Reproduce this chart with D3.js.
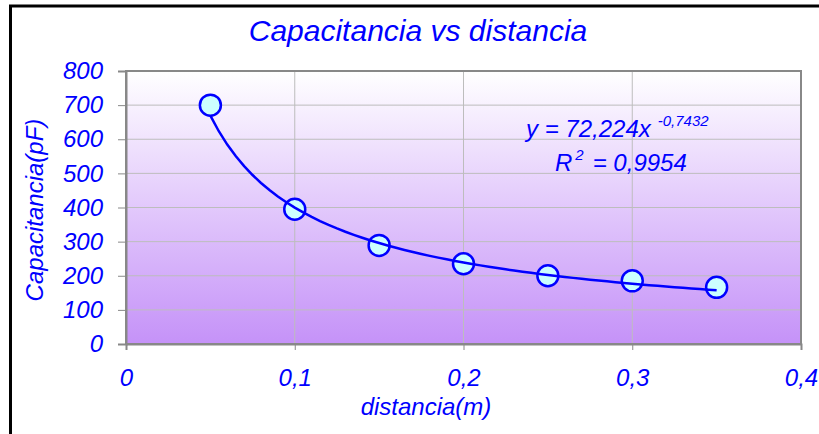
<!DOCTYPE html>
<html>
<head>
<meta charset="utf-8">
<script src="https://cdn.jsdelivr.net/npm/d3@7"></script>
<style>
  html, body { margin: 0; padding: 0; background: #ffffff; }
  svg { display: block; }
  text { font-family: "Liberation Sans", Arial, sans-serif; font-style: italic; fill: #0000ff; }
</style>
</head>
<body>
<svg id="chart" width="819" height="434"></svg>
<script>
// ---- data ----
const distances = [0.05, 0.10, 0.15, 0.20, 0.25, 0.30, 0.35];
const capacitances = [700, 395, 289, 235, 200, 185, 166];
const xTicks = [0, 0.1, 0.2, 0.3, 0.4];
const yTicks = [0, 100, 200, 300, 400, 500, 600, 700, 800];
const trendCoefA = [72.224];
const trendCoefB = [-0.7432];
const titleText = "Capacitancia vs distancia";
const xTitle = "distancia(m)";
const yTitle = "Capacitancia(pF)";
const eqMain = "y = 72,224x";
const eqExp = "-0,7432";
const r2Label = "R";
const r2Value = "= 0,9954";

(function () {
const svg = d3.select("#chart");
const fmt = v => String(v).replace(".", ",");

const pL = 126, pR = 801, pT = 71, pB = 344;
const x = d3.scaleLinear().domain([0, 0.4]).range([pL, pR]);
const y = d3.scaleLinear().domain([0, 800]).range([pB, pT]);

// outer frame
svg.append("rect").attr("x", 10.5).attr("y", 6).attr("width", 900).attr("height", 500)
  .attr("fill", "#ffffff").attr("stroke", "#000000").attr("stroke-width", 3);

// gradient background
const defs = svg.append("defs");
const grad = defs.append("linearGradient").attr("id", "bg").attr("x1", 0).attr("y1", 0).attr("x2", 0).attr("y2", 1);
grad.append("stop").attr("offset", "0%").attr("stop-color", "#ffffff");
grad.append("stop").attr("offset", "100%").attr("stop-color", "#c592f8");
svg.append("rect").attr("x", pL).attr("y", pT).attr("width", pR - pL).attr("height", pB - pT)
  .attr("fill", "url(#bg)");

// gridlines
svg.append("g").selectAll("line").data(yTicks.filter(d => d > 0 && d < 800)).join("line")
  .attr("x1", pL).attr("x2", pR).attr("y1", d => y(d)).attr("y2", d => y(d))
  .attr("stroke", "#bdbdbd").attr("stroke-width", 1);
svg.append("g").selectAll("line").data(xTicks.filter(d => d > 0 && d < 0.4)).join("line")
  .attr("y1", pT).attr("y2", pB).attr("x1", d => x(d)).attr("x2", d => x(d))
  .attr("stroke", "#bdbdbd").attr("stroke-width", 1);

// plot border
svg.append("rect").attr("x", pL).attr("y", pT).attr("width", pR - pL).attr("height", pB - pT)
  .attr("fill", "none").attr("stroke", "#888888").attr("stroke-width", 2);

// axes
const yAxis = d3.axisLeft(y).tickValues(yTicks).tickSize(8).tickFormat(d => fmt(d));
const gy = svg.append("g").attr("transform", `translate(${pL},0)`).call(yAxis);
gy.attr("font-family", null).attr("font-size", null);
gy.select(".domain").attr("stroke", "#888888").attr("stroke-width", 2);
gy.selectAll(".tick line").attr("stroke", "#888888").attr("stroke-width", 1);
gy.selectAll(".tick text").attr("x", -23).attr("dy", "0.32em")
  .style("font-size", "24px").attr("fill", "#0000ff");

const xAxis = d3.axisBottom(x).tickValues(xTicks).tickSize(6).tickFormat(d => fmt(d));
const gx = svg.append("g").attr("transform", `translate(0,${pB})`).call(xAxis);
gx.attr("font-family", null).attr("font-size", null);
gx.select(".domain").attr("stroke", "#888888").attr("stroke-width", 2);
gx.selectAll(".tick line").attr("stroke", "#888888").attr("stroke-width", 1);
gx.selectAll(".tick text").attr("y", 42).attr("dy", 0)
  .style("font-size", "24px").attr("fill", "#0000ff");

// markers
svg.append("g").selectAll("circle").data(distances.map((d, i) => [d, capacitances[i]])).join("circle")
  .attr("cx", d => x(d[0])).attr("cy", d => y(d[1])).attr("r", 10.5)
  .attr("fill", "#ccffff").attr("stroke", "#0000ff").attr("stroke-width", 2.5);

// power trendline from displayed coefficients
const x0 = distances[0], x1 = distances[distances.length - 1];
const xs = d3.range(0, 61).map(i => x0 + (x1 - x0) * i / 60);
const trend = xs.map(v => [v, trendCoefA[0] * Math.pow(v, trendCoefB[0])]);
svg.append("path").datum(trend)
  .attr("d", d3.line().x(d => x(d[0])).y(d => y(d[1])))
  .attr("fill", "none").attr("stroke", "#0000ff").attr("stroke-width", 2.5);

// equation
const eq = svg.append("text").attr("x", 526).attr("y", 137).style("font-size", "24px");
eq.append("tspan").text(eqMain);
eq.append("tspan").attr("dx", 7).attr("dy", -11).style("font-size", "15px").text(eqExp);
const r2 = svg.append("text").attr("x", 555).attr("y", 171).style("font-size", "24px");
r2.append("tspan").text(r2Label);
r2.append("tspan").attr("dx", 3).attr("dy", -11).style("font-size", "15px").text("2");
r2.append("tspan").attr("dx", 9).attr("dy", 11).text(r2Value);

// titles
svg.append("text").attr("x", 418).attr("y", 41).attr("text-anchor", "middle")
  .style("font-size", "30px").text(titleText);
svg.append("text").attr("x", 426).attr("y", 415).attr("text-anchor", "middle")
  .style("font-size", "24px").text(xTitle);
svg.append("text").attr("transform", "translate(43,210) rotate(-90)").attr("text-anchor", "middle")
  .style("font-size", "24px").text(yTitle);
})();
</script>
</body>
</html>
